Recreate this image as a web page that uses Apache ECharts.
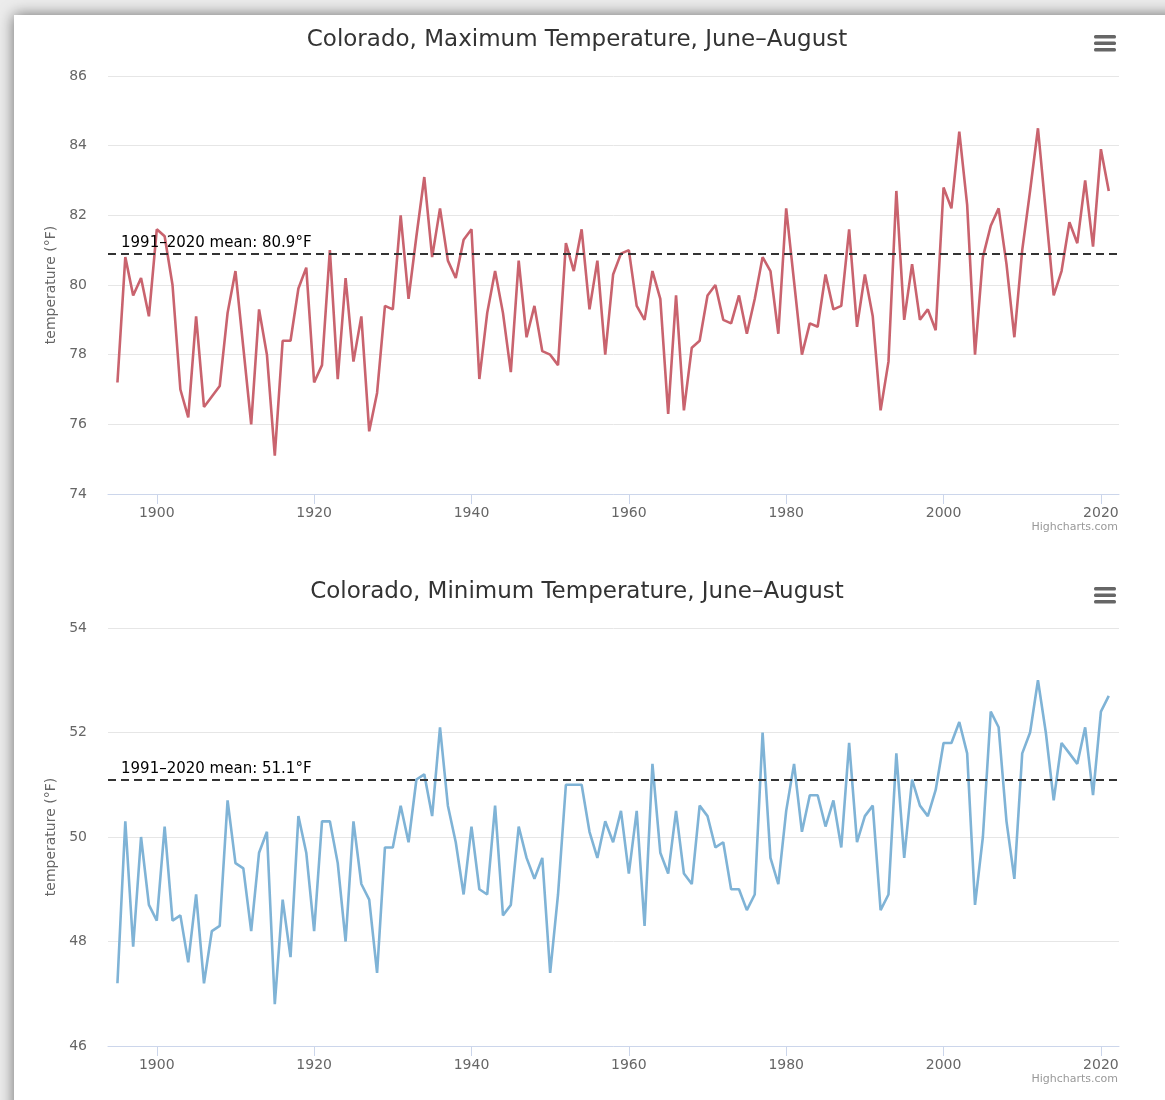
<!DOCTYPE html>
<html>
<head>
<meta charset="utf-8">
<script src="https://cdn.jsdelivr.net/npm/echarts@6/dist/echarts.min.js"></script>
<style>
  html, body { margin: 0; padding: 0; background: #ececec; overflow: hidden; }
  #card {
    position: absolute; left: 14px; top: 15px; width: 1200px; height: 1150px;
    background: #fff; box-shadow: 0 0 14px rgba(0, 0, 0, 0.55);
  }
  #chart { position: absolute; left: 0; top: 0; width: 1165px; height: 1100px; }
</style>
</head>
<body>
<div id="card"></div>
<div id="chart"></div>
<script>
// summer (Jun-Aug) averages for Colorado, one value per year from 1895
const firstYear = 1895;

const maxTemp = [
  77.2, 80.8, 79.7, 80.2, 79.1, 81.6, 81.4, 80.0, 77.0, 76.2,
  79.1, 76.5, 76.8, 77.1, 79.2, 80.4, 78.2, 76.0, 79.3, 78.0,
  75.1, 78.4, 78.4, 79.9, 80.5, 77.2, 77.7, 81.0, 77.3, 80.2,
  77.8, 79.1, 75.8, 76.9, 79.4, 79.3, 82.0, 79.6, 81.4, 83.1,
  80.8, 82.2, 80.7, 80.2, 81.3, 81.6, 77.3, 79.2, 80.4, 79.2,
  77.5, 80.7, 78.5, 79.4, 78.1, 78.0, 77.7, 81.2, 80.4, 81.6,
  79.3, 80.7, 78.0, 80.3, 80.9, 81.0, 79.4, 79.0, 80.4, 79.6,
  76.3, 79.7, 76.4, 78.2, 78.4, 79.7, 80.0, 79.0, 78.9, 79.7,
  78.6, 79.6, 80.8, 80.4, 78.6, 82.2, 80.1, 78.0, 78.9, 78.8,
  80.3, 79.3, 79.4, 81.6, 78.8, 80.3, 79.1, 76.4, 77.8, 82.7,
  79.0, 80.6, 79.0, 79.3, 78.7, 82.8, 82.2, 84.4, 82.3, 78.0,
  80.8, 81.7, 82.2, 80.6, 78.5, 81.0, 82.7, 84.5, 82.1, 79.7,
  80.4, 81.8, 81.2, 83.0, 81.1, 83.9, 82.7
];

const minTemp = [
  47.2, 50.3, 47.9, 50.0, 48.7, 48.4, 50.2, 48.4, 48.5, 47.6,
  48.9, 47.2, 48.2, 48.3, 50.7, 49.5, 49.4, 48.2, 49.7, 50.1,
  46.8, 48.8, 47.7, 50.4, 49.7, 48.2, 50.3, 50.3, 49.5, 48.0,
  50.3, 49.1, 48.8, 47.4, 49.8, 49.8, 50.6, 49.9, 51.1, 51.2,
  50.4, 52.1, 50.6, 49.9, 48.9, 50.2, 49.0, 48.9, 50.6, 48.5,
  48.7, 50.2, 49.6, 49.2, 49.6, 47.4, 48.9, 51.0, 51.0, 51.0,
  50.1, 49.6, 50.3, 49.9, 50.5, 49.3, 50.5, 48.3, 51.4, 49.7,
  49.3, 50.5, 49.3, 49.1, 50.6, 50.4, 49.8, 49.9, 49.0, 49.0,
  48.6, 48.9, 52.0, 49.6, 49.1, 50.5, 51.4, 50.1, 50.8, 50.8,
  50.2, 50.7, 49.8, 51.8, 49.9, 50.4, 50.6, 48.6, 48.9, 51.6,
  49.6, 51.1, 50.6, 50.4, 50.9, 51.8, 51.8, 52.2, 51.6, 48.7,
  50.0, 52.4, 52.1, 50.3, 49.2, 51.6, 52.0, 53.0, 52.0, 50.7,
  51.8, 51.6, 51.4, 52.1, 50.8, 52.4, 52.7
];

const maxMean = 80.9;
const minMean = 51.1;

const xTickLabels = [1900, 1920, 1940, 1960, 1980, 2000, 2020];
const maxTicks = [74, 76, 78, 80, 82, 84, 86];
const minTicks = [46, 48, 50, 52, 54];

const titles = [
  'Colorado, Maximum Temperature, June–August',
  'Colorado, Minimum Temperature, June–August'
];

const FONT = '"DejaVu Sans", Verdana, sans-serif';

const toPairs = (vals) => vals.map((v, i) => [firstYear + i, v]);

const chart = echarts.init(document.getElementById('chart'), null, { renderer: 'canvas' });

const xAxisFor = (gridIndex) => ({
  type: 'value',
  gridIndex: gridIndex,
  min: 1893.8,
  max: 2022.3,
  axisLine: { show: true, lineStyle: { color: '#ccd6eb', width: 1 } },
  axisTick: { show: true, length: 10, customValues: xTickLabels, lineStyle: { color: '#ccd6eb' } },
  axisLabel: {
    customValues: xTickLabels,
    formatter: (v) => String(v),
    color: '#666', fontSize: 14, fontFamily: FONT, margin: 12
  },
  splitLine: { show: false }
});

const yAxisFor = (gridIndex, ticks) => ({
  type: 'value',
  gridIndex: gridIndex,
  min: ticks[0],
  max: ticks[ticks.length - 1],
  interval: ticks[1] - ticks[0],
  name: 'temperature (°F)',
  nameLocation: 'middle',
  nameGap: 48,
  nameTextStyle: { color: '#666', fontSize: 14, fontFamily: FONT },
  axisLine: { show: false },
  axisTick: { show: false },
  axisLabel: { color: '#666', fontSize: 14, fontFamily: FONT, margin: 21 },
  splitLine: { lineStyle: { color: '#e6e6e6', width: 1 } }
});

const lineSeries = (idx, vals, color, mean) => ({
  type: 'line',
  xAxisIndex: idx,
  yAxisIndex: idx,
  data: toPairs(vals),
  showSymbol: false,
  lineStyle: { color: color, width: 2.6 },
  itemStyle: { color: color },
  markLine: {
    silent: true,
    symbol: 'none',
    lineStyle: { color: '#333', width: 2, type: [8, 5] },
    label: {
      show: true,
      position: 'insideStartTop',
      formatter: '1991–2020 mean: ' + mean + '°F',
      color: '#000',
      fontSize: 15,
      fontFamily: FONT,
      distance: [13, 3]
    },
    data: [{ yAxis: mean }]
  }
});

const menuIcon = (top) => ({
  type: 'group',
  left: 1094,
  top: top,
  children: [0, 6.5, 13].map((dy) => ({
    type: 'rect',
    shape: { x: 0, y: dy, width: 22, height: 3.5, r: 1.5 },
    style: { fill: '#666' }
  }))
});

const credit = (y) => ({
  type: 'text',
  right: 47,
  top: y,
  style: { text: 'Highcharts.com', fill: '#999', font: '11px ' + FONT }
});

const option = {
  animation: false,
  backgroundColor: 'transparent',
  title: [
    { text: titles[0], left: 572, top: 24, textAlign: 'center',
      textStyle: { color: '#333', fontSize: 23, fontWeight: 'normal', fontFamily: FONT } },
    { text: titles[1], left: 572, top: 576, textAlign: 'center',
      textStyle: { color: '#333', fontSize: 23, fontWeight: 'normal', fontFamily: FONT } }
  ],
  grid: [
    { left: 108, right: 46, top: 76, height: 418 },
    { left: 108, right: 46, top: 628, height: 418 }
  ],
  xAxis: [xAxisFor(0), xAxisFor(1)],
  yAxis: [yAxisFor(0, maxTicks), yAxisFor(1, minTicks)],
  series: [
    lineSeries(0, maxTemp, '#c9636e', maxMean),
    lineSeries(1, minTemp, '#7fb3d6', minMean)
  ],
  graphic: [menuIcon(35), menuIcon(587), credit(522), credit(1074)]
};

chart.setOption(option);
window.addEventListener('resize', () => chart.resize());
</script>
</body>
</html>
